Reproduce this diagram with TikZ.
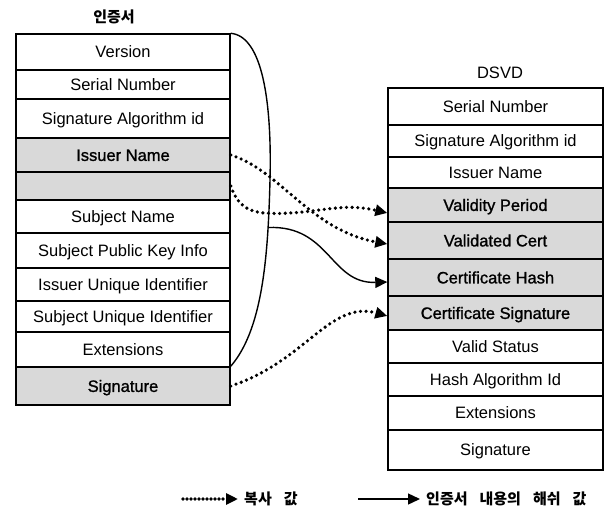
\documentclass[tikz,border=0pt]{standalone}
\usepackage{fontspec}
\setmainfont{Liberation Sans}
\newfontfamily\kr[WordSpace=3.5]{Noto Sans CJK KR}
\usetikzlibrary{arrows.meta}
\begin{document}
\begin{tikzpicture}[x=1pt,y=-1pt,
  cell/.style={draw, line width=1.4pt, inner sep=0pt, text height=11.8pt, text depth=0pt,
    font=\fontsize{16.5}{18}\selectfont},
  lcell/.style={cell, minimum width=214pt},
  rcell/.style={cell, minimum width=215pt},
  shd/.style={fill=black!15, font=\fontsize{16.5}{18}\selectfont\addfontfeature{FakeBold=1.2}},
  cp/.style={line width=3.6pt, dash pattern=on 0pt off 5.6pt, line cap=round,
    -{Triangle[length=12pt,width=11pt]}},
  cplg/.style={cp, dash pattern=on 0pt off 4pt},
  hs/.style={line width=1.4pt, -{Triangle[length=12pt,width=11pt]}},
  krtext/.style={inner sep=0pt, font=\kr\bfseries\fontsize{15}{17}\selectfont}]
\useasboundingbox (0,0) rectangle (605,519);

% titles
\node[krtext] (t1) at (114,16.5) {인증서};
\node[inner sep=0pt, font=\fontsize{16.5}{18}\selectfont] (t2) at (500,72.5) {DSVD};

% left table
\node[lcell, minimum height=36pt] (L1) at (123,52) {Version};
\node[lcell, minimum height=29pt] (L2) at (123,84.5) {Serial Number};
\node[lcell, minimum height=39pt] (L3) at (123,118.5) {Signature Algorithm id};
\node[lcell, shd, minimum height=34pt] (L4) at (123,155) {Issuer Name};
\node[lcell, shd, minimum height=28pt] (L5) at (123,186) {};
\node[lcell, minimum height=33pt] (L6) at (123,216.5) {Subject Name};
\node[lcell, minimum height=35pt] (L7) at (123,250.5) {Subject Public Key Info};
\node[lcell, minimum height=33pt] (L8) at (123,284.5) {Issuer Unique Identifier};
\node[lcell, minimum height=31pt] (L9) at (123,316.5) {Subject Unique Identifier};
\node[lcell, minimum height=35pt] (L10) at (123,349.5) {Extensions};
\node[lcell, shd, minimum height=38pt] (L11) at (123,386) {Signature};

% right table
\node[rcell, minimum height=37pt] (R1) at (495.5,106.5) {Serial Number};
\node[rcell, minimum height=32pt] (R2) at (495.5,141) {Signature Algorithm id};
\node[rcell, minimum height=31pt] (R3) at (495.5,172.5) {Issuer Name};
\node[rcell, shd, minimum height=34pt] (R4) at (495.5,205) {Validity Period};
\node[rcell, shd, minimum height=37pt] (R5) at (495.5,240.5) {Validated Cert};
\node[rcell, shd, minimum height=37pt] (R6) at (495.5,277.5) {Certificate Hash};
\node[rcell, shd, minimum height=34pt] (R7) at (495.5,313) {Certificate Signature};
\node[rcell, minimum height=33pt] (R8) at (495.5,346.5) {Valid Status};
\node[rcell, minimum height=33pt] (R9) at (495.5,379.5) {Hash Algorithm Id};
\node[rcell, minimum height=34pt] (R10) at (495.5,413) {Extensions};
\node[rcell, minimum height=40pt] (R11) at (495.5,450) {Signature};

% bracket (hash input) and branch
\draw[line width=1.4pt] (L1.north east) .. controls (262,36) and (272,100) .. (270,180)
  .. controls (268,260) and (262,330) .. (L11.north east);
\coordinate (br) at (268,227.5);
\draw[hs] (br) .. controls (330,225) and (330,284) .. ([yshift=-4.5pt]R6.west);

% copied values
\draw[cp] (L4.east) .. controls (280,170) and (310,230) .. ([yshift=-3.5pt]R5.west);
\draw[cp] (L5.east) .. controls (240,212) and (255,215) .. (290,213)
  .. controls (325,211) and (345,203) .. ([yshift=-8pt]R4.west);
\draw[cp] (L11.east) .. controls (305,362) and (330,300) .. ([yshift=-3pt]R7.west);

% legend
\coordinate (lga) at (183,499);
\node[krtext, anchor=west] (lg1) at (244,499) {복사 값};
\draw[cplg] (lga) -- ([xshift=-6pt]lg1.west);
\coordinate (lgb) at (358,499);
\node[krtext, anchor=west] (lg2) at (426,499) {인증서 내용의 해쉬 값};
\draw[hs] (lgb) -- ([xshift=-6pt]lg2.west);
\end{tikzpicture}
\end{document}
